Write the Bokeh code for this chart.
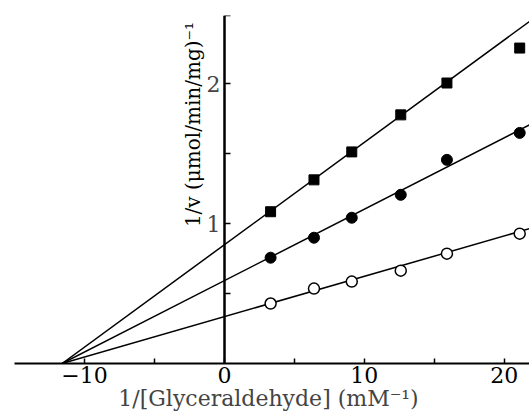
import numpy as np
from bokeh.plotting import figure
from bokeh.models import Range1d, FixedTicker, Label
from bokeh.embed import file_html
from bokeh.resources import INLINE

# ---- data ----
inv_glyceraldehyde = [3.3, 6.4, 9.1, 12.6, 15.9, 21.1]
series_square = [1.086, 1.314, 1.514, 1.779, 2.007, 2.257]
series_filled = [0.757, 0.900, 1.043, 1.207, 1.457, 1.650]
series_open = [0.429, 0.536, 0.586, 0.664, 0.786, 0.929]
# fitted lines: common x-intercept and y-intercepts
line_x_intercept = -11.6
line_y_intercepts = [0.85, 0.593, 0.335]
line_x_end = 21.8
x_ticks = [-10, 0, 10, 20]
x_minor = [-5, 5, 15]
y_ticks = [1, 2]
y_minor = [0.5, 1.5, 2.49]

FONT = "DejaVu Serif"

p = figure(width=529, height=417, output_backend="svg", toolbar_location=None,
           x_range=Range1d(-15.0, 21.8), y_range=Range1d(0, 2.49),
           min_border_left=14, min_border_right=0, min_border_top=15, min_border_bottom=54)
p.outline_line_color = None
p.grid.visible = False
p.background_fill_color = "white"
p.border_fill_color = "white"

# regression lines
for b in line_y_intercepts:
    slope = -b / line_x_intercept
    xs = [line_x_intercept, line_x_end]
    ys = [0, b + slope * line_x_end]
    p.line(xs, ys, line_color="black", line_width=1.5)

p.scatter(inv_glyceraldehyde, series_square, marker="square", size=10,
          fill_color="black", line_color="black")
p.scatter(inv_glyceraldehyde, series_filled, marker="circle", size=11,
          fill_color="black", line_color="black")
p.scatter(inv_glyceraldehyde, series_open, marker="circle", size=11,
          fill_color="white", line_color="black", line_width=1.5)

# x axis
xa = p.xaxis[0]
xa.ticker = FixedTicker(ticks=x_ticks, minor_ticks=x_minor)
xa.major_label_overrides = {-10: "\u221210"}
xa.axis_line_width = 2
xa.major_tick_in = 5
xa.major_tick_out = 0
xa.minor_tick_in = 5
xa.minor_tick_out = 0
xa.major_tick_line_width = 1.5
xa.minor_tick_line_width = 1.5
xa.major_label_text_font = FONT
xa.major_label_text_font_size = "22px"
xa.major_label_text_color = "black"
xa.major_label_standoff = 3
xa.axis_label = "1/[Glyceraldehyde]  (mM\u207b\u00b9)"
xa.axis_label_text_font = FONT
xa.axis_label_text_font_size = "22px"
xa.axis_label_text_font_style = "normal"
xa.axis_label_standoff = 0

# y axis at x = 0
ya = p.yaxis[0]
ya.fixed_location = 0
ya.ticker = FixedTicker(ticks=y_ticks, minor_ticks=y_minor)
ya.axis_line_width = 2.5
ya.major_tick_in = 6
ya.major_tick_out = 0
ya.minor_tick_in = 6
ya.minor_tick_out = 0
ya.major_tick_line_width = 1.5
ya.minor_tick_line_width = 1.5
ya.major_label_text_font = FONT
ya.major_label_text_font_size = "22px"
ya.major_label_standoff = 4

p.add_layout(Label(x=-2.25, y=1.71, text="1/v (\u03bcmol/min/mg)\u207b\u00b9",
                   angle=np.pi / 2, text_align="center", text_baseline="middle",
                   text_font=FONT, text_font_size="20px", text_color="black"))

open("out.html", "w").write(file_html(p, INLINE))
